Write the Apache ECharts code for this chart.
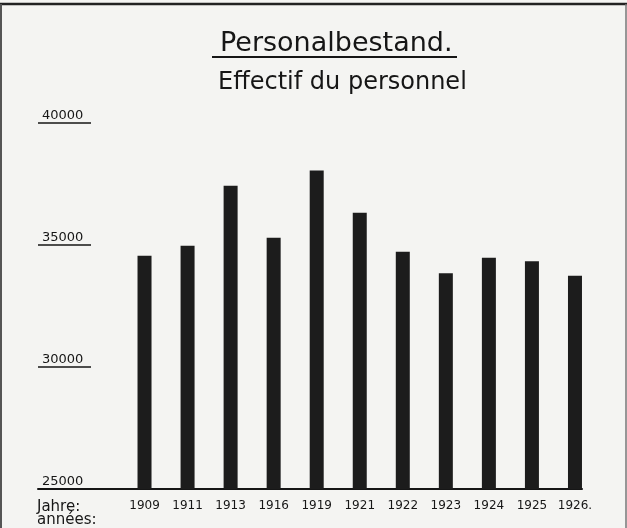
<!DOCTYPE html>
<html>
<head>
<meta charset="utf-8">
<script src="https://cdn.jsdelivr.net/npm/echarts@6/dist/echarts.min.js"></script>
<style>
  html, body { margin: 0; padding: 0; background: #f4f4f2; }
  #chart { width: 627px; height: 528px; }
</style>
</head>
<body>
<div id="chart"></div>
<script>
// Jahre / années
var years = ["1909", "1911", "1913", "1916", "1919", "1921", "1922", "1923", "1924", "1925", "1926"];
// Personalbestand / Effectif du personnel
var staff = [34560, 34970, 37430, 35300, 38050, 36320, 34720, 33840, 34480, 34330, 33740];
var yMin = 25000;
var yMax = 40000;
var yStep = 5000;

var ink = "#161616";
var font = "DejaVu Sans";

var chart = echarts.init(document.getElementById("chart"));
var option = {
  backgroundColor: "#f4f4f2",
  animation: false,
  title: [
    {
      text: "Personalbestand.",
      left: 215,
      top: 25,
      textStyle: { fontFamily: font, fontSize: 27, fontWeight: "normal", color: ink }
    },
    {
      text: "Effectif du personnel",
      left: 213,
      top: 66,
      textStyle: { fontFamily: font, fontSize: 24, fontWeight: "normal", color: ink }
    },
    {
      text: "Jahre:\nannées:",
      left: 32,
      top: 496,
      textStyle: { fontFamily: font, fontSize: 15, fontWeight: "normal", color: ink, lineHeight: 13 }
    }
  ],
  graphic: [
    // Rahmen
    { type: "line", shape: { x1: 0, y1: 4, x2: 627, y2: 4 }, style: { stroke: "#222", lineWidth: 2.5 } },
    { type: "line", shape: { x1: 1, y1: 4, x2: 1, y2: 528 }, style: { stroke: "#555", lineWidth: 2 } },
    { type: "line", shape: { x1: 626, y1: 4, x2: 626, y2: 528 }, style: { stroke: "#777", lineWidth: 1.5 } },
    // Unterstreichung Titel
    { type: "line", shape: { x1: 212, y1: 57, x2: 457, y2: 57 }, style: { stroke: ink, lineWidth: 2 } }
  ],
  grid: [
    { left: 123, right: 30.5, top: 123, bottom: 39 },
    { left: 38, right: 45, top: 123, bottom: 39 }
  ],
  xAxis: [
    {
      type: "category",
      gridIndex: 0,
      data: years,
      axisLine: { show: false },
      axisTick: { show: false },
      axisLabel: {
        interval: 0,
        margin: 11,
        fontFamily: font,
        fontSize: 12,
        color: ink,
        formatter: function (v, i) {
          return i === years.length - 1 ? v + "." : v;
        }
      }
    },
    {
      type: "value",
      gridIndex: 1,
      min: 0,
      max: 1,
      axisLine: { show: true, lineStyle: { color: ink, width: 2 } },
      axisTick: { show: false },
      axisLabel: { show: false },
      splitLine: { show: false }
    }
  ],
  yAxis: [
    {
      type: "value",
      gridIndex: 0,
      min: yMin,
      max: yMax,
      interval: yStep,
      show: false
    },
    {
      type: "value",
      gridIndex: 1,
      min: yMin,
      max: yMax,
      interval: yStep,
      axisLine: { show: false },
      splitLine: { show: false },
      axisTick: { show: true, inside: true, length: 53, lineStyle: { color: ink, width: 1.5 } },
      axisLabel: {
        inside: true,
        margin: 4,
        verticalAlign: "bottom",
        padding: [0, 0, 1, 0],
        fontFamily: font,
        fontSize: 13,
        color: ink,
        formatter: function (v) {
          return String(v);
        }
      }
    }
  ],
  series: [
    {
      type: "bar",
      xAxisIndex: 0,
      yAxisIndex: 0,
      data: staff,
      barWidth: 14,
      itemStyle: { color: "#1c1c1c" }
    }
  ]
};
chart.setOption(option);
</script>
</body>
</html>
